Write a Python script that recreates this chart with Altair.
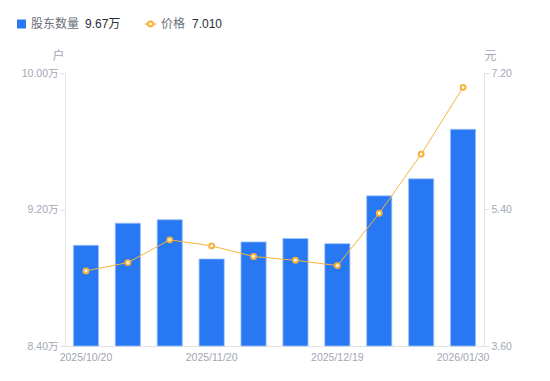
import altair as alt
import pandas as pd

dates = ["2025/10/20", "2025/10/31", "2025/11/10", "2025/11/20", "2025/11/28",
         "2025/12/10", "2025/12/19", "2025/12/31", "2026/01/20", "2026/01/30"]
holders = [8.99, 9.12, 9.14, 8.91, 9.01, 9.03, 9.00, 9.28, 9.38, 9.67]  # 万户
price = [4.59, 4.70, 5.00, 4.92, 4.78, 4.73, 4.66, 5.35, 6.13, 7.01]
shown_dates = [dates[0], dates[3], dates[6], dates[9]]
left_ticks = [8.40, 9.20, 10.00]
right_ticks = [3.60, 5.40, 7.20]

df = pd.DataFrame({"date": dates, "holders": holders, "price": price})

FONT = "Liberation Sans, Noto Sans CJK SC, sans-serif"
BLUE = "#2878f3"
ORANGE = "#f7b23b"
GREY = "#a3a6b4"
AXIS_LINE = "#e3e3e3"

x = alt.X("date:N", sort=dates, title=None,
          scale=alt.Scale(paddingInner=0.4, paddingOuter=0.2),
          axis=alt.Axis(values=shown_dates, labelAngle=0, ticks=False,
                        labelColor=GREY, labelFontSize=10.5, labelFont=FONT,
                        domainColor=AXIS_LINE, labelPadding=6))

bars = alt.Chart(df).mark_bar(color=BLUE, stroke="#9ec2f8", strokeWidth=0.8).encode(
    x=x,
    y=alt.Y("holders:Q",
            scale=alt.Scale(domain=[8.4, 10.0], zero=False, nice=False),
            axis=alt.Axis(values=left_ticks, grid=False,
                          labelExpr="format(datum.value, '.2f') + '万'",
                          labelColor=GREY, labelFontSize=10.5, labelFont=FONT,
                          domainColor=AXIS_LINE, tickColor=AXIS_LINE, tickSize=5,
                          labelPadding=2,
                          title="户", titleAngle=0, titleX=-7, titleY=-11,
                          titleAlign="center", titleBaseline="bottom",
                          titleColor=GREY, titleFontWeight="normal",
                          titleFontSize=12, titleFont=FONT)),
    y2=alt.datum(8.4),
)

line_base = alt.Chart(df).encode(
    x=x,
    y=alt.Y("price:Q",
            scale=alt.Scale(domain=[3.6, 7.2], zero=False, nice=False),
            axis=alt.Axis(values=right_ticks, grid=False, orient="right",
                          format=".2f",
                          labelColor=GREY, labelFontSize=10.5, labelFont=FONT,
                          domainColor=AXIS_LINE, tickColor=AXIS_LINE, tickSize=5,
                          labelPadding=2,
                          title="元", titleAngle=0, titleX=6, titleY=-11,
                          titleAlign="center", titleBaseline="bottom",
                          titleColor=GREY, titleFontWeight="normal",
                          titleFontSize=12, titleFont=FONT)),
)
line = line_base.mark_line(color=ORANGE, strokeWidth=1)
pts = line_base.mark_point(filled=True, fill="white", stroke=ORANGE,
                           strokeWidth=2, size=24, opacity=1)

one = pd.DataFrame({"a": [0]})
LY = -49
leg_sq = alt.Chart(one).mark_square(color=BLUE, size=80, cornerRadius=2, opacity=1).encode(
    x=alt.value(-43.5), y=alt.value(LY))
leg_t1 = alt.Chart(one).mark_text(text="股东数量", align="left", baseline="middle",
                                  font=FONT, fontSize=12, color="#6b6e7a").encode(
    x=alt.value(-34), y=alt.value(LY))
leg_v1 = alt.Chart(one).mark_text(text=f"{holders[-1]:.2f}万", align="left",
                                  baseline="middle", font=FONT, fontSize=12,
                                  color="#2b2d33").encode(
    x=alt.value(20), y=alt.value(LY))
leg_ln = alt.Chart(one).mark_rule(color=ORANGE, strokeWidth=1.5).encode(
    x=alt.value(80), x2=alt.value(91), y=alt.value(LY))
leg_pt = alt.Chart(one).mark_point(filled=True, fill="white", stroke=ORANGE,
                                   strokeWidth=2, size=24, opacity=1).encode(
    x=alt.value(85.5), y=alt.value(LY))
leg_t2 = alt.Chart(one).mark_text(text="价格", align="left", baseline="middle",
                                  font=FONT, fontSize=12, color="#6b6e7a").encode(
    x=alt.value(96), y=alt.value(LY))
leg_v2 = alt.Chart(one).mark_text(text=f"{price[-1]:.3f}", align="left",
                                  baseline="middle", font=FONT, fontSize=12,
                                  color="#2b2d33").encode(
    x=alt.value(127), y=alt.value(LY))

chart = alt.layer(bars, line + pts).resolve_scale(y="independent")
chart = alt.layer(chart, leg_sq, leg_t1, leg_v1, leg_ln, leg_pt, leg_t2, leg_v2).properties(
    width=419, height=273,
    autosize=alt.AutoSizeParams(type="none"),
    padding={"left": 57, "top": 65, "right": 50, "bottom": 20},
).configure_view(stroke=None)

chart.save("out.html", embed_options={"renderer": "svg", "actions": False})
